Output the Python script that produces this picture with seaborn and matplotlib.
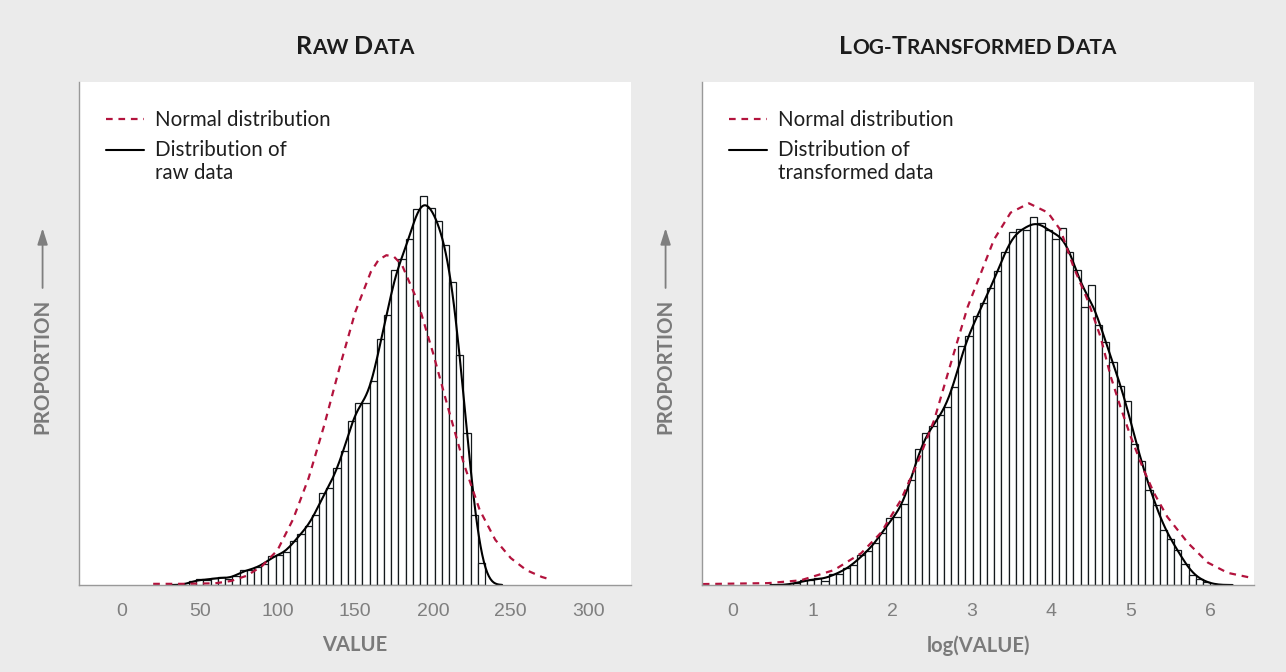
import numpy as np
import pandas as pd
import matplotlib.pyplot as plt
import seaborn as sns
from matplotlib.offsetbox import TextArea, HPacker, AnchoredOffsetbox
from matplotlib.legend_handler import HandlerLine2D

raw_bin_lo, raw_bin_hi = 43.0, 233.5
raw_pct = [0.07, 0.10, 0.08, 0.12, 0.14, 0.10, 0.16, 0.26, 0.26, 0.31,
           0.37, 0.50, 0.53, 0.57, 0.76, 0.89, 1.03, 1.22, 1.60, 1.69,
           2.04, 2.34, 2.86, 3.18, 3.18, 3.56, 4.29, 4.72, 5.51, 5.70,
           6.04, 6.56, 6.80, 6.59, 6.36, 5.94, 5.30, 4.02, 2.65, 1.22, 0.38]
raw_norm_x = [20, 40, 60, 70, 80, 90, 100, 110, 120, 130, 140, 150, 160, 165,
              170, 175, 180, 190, 200, 210, 220, 230, 240, 250, 260, 270, 275]
raw_norm_y = [0.02, 0.02, 0.03, 0.07, 0.16, 0.33, 0.61, 1.15, 1.87, 2.79, 3.81,
              4.77, 5.47, 5.68, 5.76, 5.73, 5.59, 4.96, 4.05, 3.06, 2.10, 1.31,
              0.79, 0.47, 0.26, 0.14, 0.10]
raw_ticks = [0, 50, 100, 150, 200, 250, 300]

log_bin_lo, log_bin_hi = 0.75, 6.0
log_pct = [0.02, 0.05, 0.05, 0.08, 0.04, 0.12, 0.12, 0.18, 0.21, 0.32,
           0.36, 0.45, 0.56, 0.72, 0.73, 0.87, 1.13, 1.46, 1.63, 1.70,
           1.82, 1.91, 2.12, 2.56, 2.67, 2.88, 3.02, 3.18, 3.36, 3.57,
           3.78, 3.81, 3.80, 3.94, 3.88, 3.80, 3.71, 3.83, 3.57, 3.38,
           2.98, 3.22, 2.79, 2.60, 2.39, 2.13, 1.97, 1.51, 1.33, 1.02,
           0.86, 0.59, 0.49, 0.38, 0.22, 0.11, 0.06, 0.03]
log_norm_x = [-0.38, 0.44, 0.85, 1.27, 1.61, 1.86, 2.11, 2.32, 2.53, 2.74,
              2.95, 3.12, 3.28, 3.49, 3.72, 3.96, 4.12, 4.28, 4.46, 4.62,
              4.75, 4.87, 5.0, 5.15, 5.29, 5.46, 5.72, 5.97, 6.22, 6.5]
log_norm_y = [0.01, 0.02, 0.05, 0.16, 0.34, 0.56, 0.91, 1.31, 1.77, 2.38,
              2.98, 3.35, 3.70, 3.99, 4.09, 3.99, 3.80, 3.41, 3.05, 2.66,
              2.23, 1.91, 1.59, 1.26, 0.99, 0.73, 0.45, 0.24, 0.13, 0.08]
log_ticks = [0, 1, 2, 3, 4, 5, 6]

panels = [
    dict(lo=raw_bin_lo, hi=raw_bin_hi, pct=raw_pct, nx=raw_norm_x, ny=raw_norm_y,
         ticks=raw_ticks, xlim=(-27.7, 327.3), ylim=8.785, bw=0.25,
         title=[("R", 1), ("AW ", 0), ("D", 1), ("ATA", 0)],
         xlabel="VALUE", kde_label="Distribution of\nraw data"),
    dict(lo=log_bin_lo, hi=log_bin_hi, pct=log_pct, nx=log_norm_x, ny=log_norm_y,
         ticks=log_ticks, xlim=(-0.39, 6.55), ylim=5.39, bw=0.24,
         title=[("L", 1), ("OG-", 0), ("T", 1), ("RANSFORMED ", 0), ("D", 1), ("ATA", 0)],
         xlabel="log(VALUE)", kde_label="Distribution of\ntransformed data"),
]

BG = "#ebebeb"
RED = "#b3133d"
GREY_TXT = "#7a7a7a"

sns.set_style("white")
plt.rcParams["font.family"] = ["Lato", "DejaVu Sans"]


class FirstLineHandler(HandlerLine2D):
    # put the legend key level with the first line of a two-line label
    def create_artists(self, legend, orig_handle, xdescent, ydescent, width,
                       height, fontsize, trans):
        arts = super().create_artists(legend, orig_handle, xdescent, ydescent,
                                      width, height, fontsize, trans)
        for a in arts:
            a.set_ydata(np.asarray(a.get_ydata()) + 0.6 * fontsize)
        return arts


fig = plt.figure(figsize=(12.86, 6.72), dpi=100, facecolor=BG)
lefts = [79, 702]

for p, left in zip(panels, lefts):
    ax = fig.add_axes([left / 1286, 87 / 672, 552 / 1286, 503 / 672])
    ax.set_facecolor("white")
    n = len(p["pct"])
    edges = np.linspace(p["lo"], p["hi"], n + 1)
    df = pd.DataFrame({"x": (edges[:-1] + edges[1:]) / 2, "pct": p["pct"]})

    sns.histplot(data=df, x="x", weights="pct", bins=edges.tolist(), stat="count",
                 color="black", facecolor="white", edgecolor="#14191c",
                 linewidth=0.9, kde=True,
                 kde_kws={"bw_adjust": p["bw"], "cut": 2},
                 line_kws={"linewidth": 1.5}, ax=ax)
    kde_line = ax.lines[-1]
    sns.lineplot(x=p["nx"], y=p["ny"], color=RED, linewidth=1.6,
                 linestyle=(0, (3, 2.6)), ax=ax)
    norm_line = ax.lines[-1]

    ax.set_xlim(*p["xlim"])
    ax.set_ylim(0, p["ylim"])
    ax.set_xticks(p["ticks"])
    ax.set_yticks([])
    ax.set_xlabel("")
    ax.set_ylabel("")
    for s in ["top", "right"]:
        ax.spines[s].set_visible(False)
    for s in ["left", "bottom"]:
        ax.spines[s].set_color("#999999")
        ax.spines[s].set_linewidth(1.0)
    ax.tick_params(axis="x", direction="out", length=7, width=1, color="#8c8c8c",
                   labelcolor="#7f7f7f", labelsize=14, pad=6)
    for t in ax.get_xticklabels():
        t.set_family(["Liberation Sans", "DejaVu Sans"])

    # x label
    ax.text(0.5, -0.12, p["xlabel"], transform=ax.transAxes, ha="center",
            va="center", fontsize=14.5, fontweight="bold", color=GREY_TXT)
    # y label with arrow
    ax.text(-0.066, 0.435, "PROPORTION", transform=ax.transAxes, ha="center",
            va="center", rotation=90, fontsize=14.8, fontweight="bold",
            color=GREY_TXT)
    ax.annotate("", xy=(-0.066, 0.715), xytext=(-0.066, 0.585),
                xycoords="axes fraction", annotation_clip=False,
                arrowprops=dict(arrowstyle="-|>,head_length=0.7,head_width=0.22",
                                color="#7f7f7f", lw=1.3, mutation_scale=14))

    # small-caps title
    boxes = [TextArea(s, textprops=dict(fontsize=18 if big else 15,
                                        fontweight="bold", color="#1c1c1c"))
             for s, big in p["title"]]
    pack = HPacker(children=boxes, align="baseline", pad=0, sep=0)
    ab = AnchoredOffsetbox(loc="center", child=pack, bbox_to_anchor=(0.5, 1.071),
                           bbox_transform=ax.transAxes, frameon=False,
                           pad=0, borderpad=0)
    ax.add_artist(ab)

    # legend
    ax.legend(handles=[norm_line, kde_line],
              labels=["Normal distribution", p["kde_label"]],
              handler_map={kde_line: FirstLineHandler()},
              loc="upper left", bbox_to_anchor=(27 / 552, 0.944),
              frameon=False, borderpad=0, borderaxespad=0,
              handlelength=1.85, handletextpad=0.55, labelspacing=0.48,
              prop={"size": 14.8}, labelcolor="#1e1e1e")

plt.savefig("out.png", dpi=100, facecolor=BG)
